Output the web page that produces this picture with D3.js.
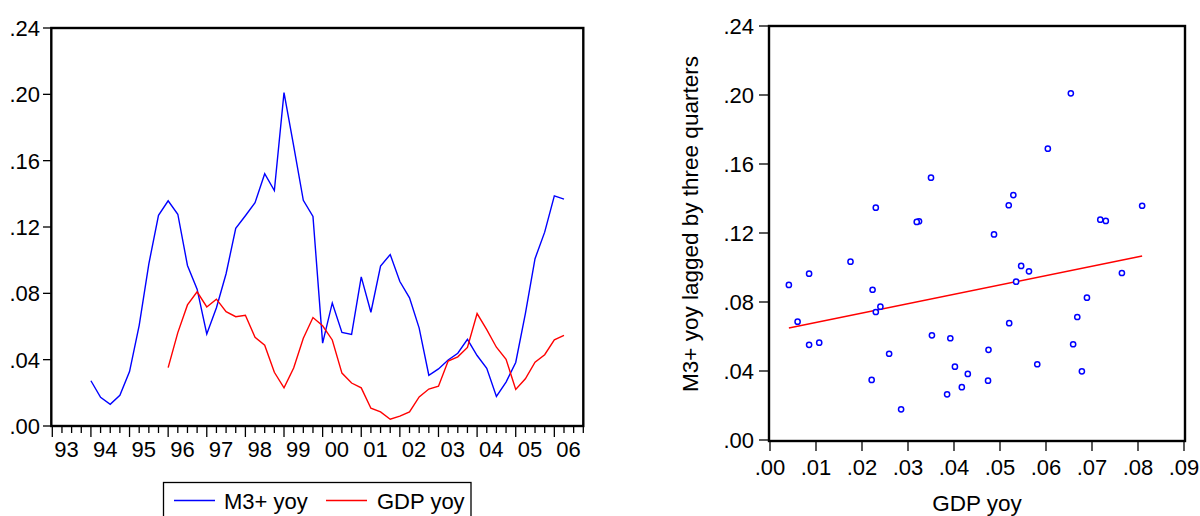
<!DOCTYPE html>
<html>
<head>
<meta charset="utf-8">
<script src="https://d3js.org/d3.v7.min.js"></script>
<style>
  body { margin: 0; background: #fff; }
  svg { display: block; font-family: "Liberation Sans", Arial, sans-serif; }
</style>
</head>
<body>
<svg id="chart" width="1200" height="516"></svg>
<script>
// quarterly index 0 = 1993Q1 ... 55 = 2006Q4
var yearLabels = ["93","94","95","96","97","98","99","00","01","02","03","04","05","06"];
var yTicks = [0, 0.04, 0.08, 0.12, 0.16, 0.20, 0.24];
var xTicksScatter = [0, 0.01, 0.02, 0.03, 0.04, 0.05, 0.06, 0.07, 0.08, 0.09];

// M3+ yoy, 1994Q1 .. 2006Q2
var m3Start = 4;
var m3 = [0.0273, 0.0173, 0.0131, 0.0185, 0.0328,
  0.0607, 0.0978, 0.1270, 0.1358, 0.1277, 0.0968, 0.0825, 0.0555, 0.0713, 0.0918,
  0.1192, 0.1268, 0.1347, 0.1521, 0.1420, 0.2010, 0.1689, 0.1361, 0.1264, 0.0500,
  0.0742, 0.0564, 0.0552, 0.0899, 0.0686, 0.0964, 0.1034, 0.0871, 0.0773, 0.0590,
  0.0306, 0.0344, 0.0398, 0.0439, 0.0523, 0.0425, 0.0348, 0.0178, 0.0265, 0.0383,
  0.0677, 0.1009,
  0.1169, 0.1388, 0.1368];

// GDP yoy, 1996Q1 .. 2006Q2
var gdpStart = 12;
var gdp = [0.0352, 0.0563, 0.0730, 0.0809, 0.0718, 0.0765, 0.0689, 0.0659, 0.0668, 0.0535,
  0.0487, 0.0324, 0.0230, 0.0350, 0.0529, 0.0654, 0.0604, 0.0519, 0.0319, 0.0259,
  0.0230, 0.0107, 0.0085, 0.0041, 0.0060, 0.0085, 0.0175, 0.0223, 0.0240, 0.0392,
  0.0417, 0.0474, 0.0678, 0.0581, 0.0475, 0.0402, 0.0221, 0.0285, 0.0385, 0.0430,
  0.0520, 0.0546];

var lag = 3;

var fmt = function(v) { return d3.format(".2f")(v).replace(/^0/, ""); };
var fs = "22px";

var svg = d3.select("#chart");

// ---------- left: time series ----------
var xL = d3.scaleLinear().domain([0, 55]).range([52.3, 583.3]);
var yL = d3.scaleLinear().domain([0, 0.24]).range([426, 28]);

var left = svg.append("g");

// y axis ticks + labels
left.selectAll(".ytick").data(yTicks).enter().append("line")
    .attr("x1", 43).attr("x2", 52)
    .attr("y1", function(d) { return yL(d); })
    .attr("y2", function(d) { return yL(d); })
    .attr("stroke", "#000").attr("stroke-width", 1.3);

left.selectAll(".ylab").data(yTicks).enter().append("text")
    .attr("x", 40)
    .attr("y", function(d) { return yL(d); })
    .attr("dy", "0.36em")
    .attr("text-anchor", "end")
    .style("font-size", fs)
    .text(fmt);

// x axis quarterly ticks
left.selectAll(".xtick").data(d3.range(0, 56)).enter().append("line")
    .attr("x1", function(d) { return xL(d); })
    .attr("x2", function(d) { return xL(d); })
    .attr("y1", 427)
    .attr("y2", function(d) { return d % 4 === 0 ? 437 : 433; })
    .attr("stroke", "#000").attr("stroke-width", 1.3);

left.selectAll(".xlab").data(yearLabels).enter().append("text")
    .attr("x", function(d, i) { return xL(i * 4) + 2; })
    .attr("y", 457)
    .style("font-size", fs)
    .text(function(d) { return d; });

// series
var lineL = d3.line()
    .x(function(d) { return xL(d.q); })
    .y(function(d) { return yL(d.v); });

var m3Pts = m3.map(function(v, i) { return {q: m3Start + i, v: v}; });
var gdpPts = gdp.map(function(v, i) { return {q: gdpStart + i, v: v}; });

left.append("path").datum(m3Pts)
    .attr("d", lineL).attr("fill", "none")
    .attr("stroke", "#0000ff").attr("stroke-width", 1.4);

left.append("path").datum(gdpPts)
    .attr("d", lineL).attr("fill", "none")
    .attr("stroke", "#ff0000").attr("stroke-width", 1.4);

// frame
left.append("rect")
    .attr("x", xL(0) - 1).attr("y", yL(0.24))
    .attr("width", xL(55) - xL(0) + 1).attr("height", yL(0) - yL(0.24))
    .attr("fill", "none").attr("stroke", "#000").attr("stroke-width", 2.4);

// legend
var legend = left.append("g");
legend.append("rect")
    .attr("x", 163.5).attr("y", 482.5).attr("width", 307.5).attr("height", 40)
    .attr("fill", "#fff").attr("stroke", "#000").attr("stroke-width", 1.3);
legend.append("line").attr("x1", 174).attr("x2", 215).attr("y1", 500.5).attr("y2", 500.5)
    .attr("stroke", "#0000ff").attr("stroke-width", 1.4);
legend.append("text").attr("x", 224).attr("y", 509).style("font-size", fs).text("M3+ yoy");
legend.append("line").attr("x1", 326).attr("x2", 367).attr("y1", 500.5).attr("y2", 500.5)
    .attr("stroke", "#ff0000").attr("stroke-width", 1.4);
legend.append("text").attr("x", 377).attr("y", 509).style("font-size", fs).text("GDP yoy");

// ---------- right: scatter ----------
var xR = d3.scaleLinear().domain([0, 0.09]).range([770, 1184]);
var yR = d3.scaleLinear().domain([0, 0.24]).range([440, 26]);

var right = svg.append("g");

var pairs = gdp.map(function(g, i) {
  var q = gdpStart + i - lag;
  return {x: g, y: m3[q - m3Start]};
});

right.selectAll(".ytick").data(yTicks).enter().append("line")
    .attr("x1", 759).attr("x2", 769)
    .attr("y1", function(d) { return yR(d); })
    .attr("y2", function(d) { return yR(d); })
    .attr("stroke", "#000").attr("stroke-width", 1.3);

right.selectAll(".ylab").data(yTicks).enter().append("text")
    .attr("x", 754)
    .attr("y", function(d) { return yR(d); })
    .attr("dy", "0.36em")
    .attr("text-anchor", "end")
    .style("font-size", fs)
    .text(fmt);

right.selectAll(".xtick").data(xTicksScatter).enter().append("line")
    .attr("x1", function(d) { return xR(d); })
    .attr("x2", function(d) { return xR(d); })
    .attr("y1", 441).attr("y2", 451)
    .attr("stroke", "#000").attr("stroke-width", 1.3);

right.selectAll(".xlab").data(xTicksScatter).enter().append("text")
    .attr("x", function(d) { return xR(d); })
    .attr("y", 475)
    .attr("text-anchor", "middle")
    .style("font-size", fs)
    .text(fmt);

right.append("text")
    .attr("x", 977).attr("y", 511)
    .attr("text-anchor", "middle")
    .style("font-size", "22.5px")
    .text("GDP yoy");

right.append("text")
    .attr("transform", "translate(698,224) rotate(-90)")
    .attr("text-anchor", "middle")
    .style("font-size", "22.5px")
    .text("M3+ yoy lagged by three quarters");

// OLS fit line over the range of GDP
var mx = d3.mean(pairs, function(d) { return d.x; }),
    my = d3.mean(pairs, function(d) { return d.y; });
var sxy = d3.sum(pairs, function(d) { return (d.x - mx) * (d.y - my); }),
    sxx = d3.sum(pairs, function(d) { return (d.x - mx) * (d.x - mx); });
var slope = sxy / sxx, icpt = my - slope * mx;
var xExt = d3.extent(pairs, function(d) { return d.x; });

right.append("line")
    .attr("x1", xR(xExt[0])).attr("y1", yR(icpt + slope * xExt[0]))
    .attr("x2", xR(xExt[1])).attr("y2", yR(icpt + slope * xExt[1]))
    .attr("stroke", "#ff0000").attr("stroke-width", 1.4);

right.selectAll(".dot").data(pairs).enter().append("circle")
    .attr("cx", function(d) { return xR(d.x); })
    .attr("cy", function(d) { return yR(d.y); })
    .attr("r", 2.6)
    .attr("fill", "#fff")
    .attr("stroke", "#0000ff").attr("stroke-width", 1.5);

right.append("rect")
    .attr("x", xR(0) - 1).attr("y", yR(0.24))
    .attr("width", xR(0.09) - xR(0) + 2).attr("height", yR(0) - yR(0.24) + 1)
    .attr("fill", "none").attr("stroke", "#000").attr("stroke-width", 2.4);
</script>
</body>
</html>
